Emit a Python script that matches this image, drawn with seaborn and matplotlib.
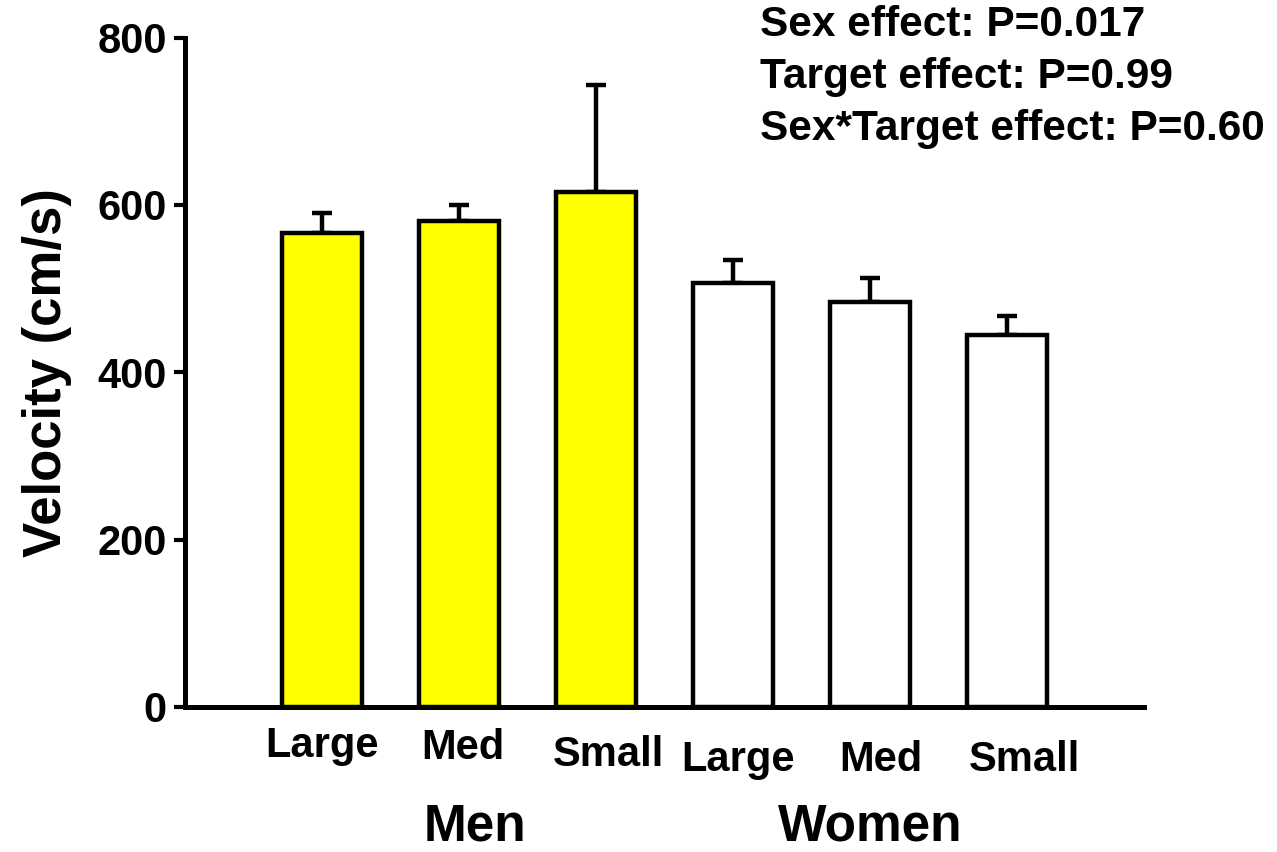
import matplotlib
matplotlib.use("Agg")
import matplotlib.pyplot as plt
import matplotlib.transforms as mtransforms
import seaborn as sns
import numpy as np

# Values
groups = ["Men", "Men", "Men", "Women", "Women", "Women"]
targets = ["Large", "Med", "Small", "Large", "Med", "Small"]
velocity = [567, 581, 616, 507, 484, 445]
sem = [23, 19, 127, 27, 29, 22]
stats_lines = ["Sex effect: P=0.017", "Target effect: P=0.99", "Sex*Target effect: P=0.60"]

sns.set_theme(style="white")
plt.rcParams["font.family"] = ["Liberation Sans", "DejaVu Sans"]
plt.rcParams["font.weight"] = "bold"
plt.rcParams["text.color"] = "black"
plt.rcParams["axes.labelcolor"] = "black"
plt.rcParams["ytick.color"] = "black"

fig = plt.figure(figsize=(12.77, 8.52), dpi=100)
ax = fig.add_axes([0.1449, 0.1702, 0.7509, 0.7856])

bar_ids = [f"{g} {t}" for g, t in zip(groups, targets)]
sns.barplot(x=bar_ids, y=velocity, hue=groups, palette={"Men": "#ffff00", "Women": "white"},
            saturation=1, dodge=False, width=0.58, edgecolor="black", linewidth=3.2,
            legend=False, errorbar=None, ax=ax, zorder=3)

xpos = np.arange(len(velocity))
ax.errorbar(xpos, velocity, yerr=[np.zeros(len(sem)), sem], fmt="none", ecolor="black",
            elinewidth=3.2, capsize=7, capthick=3.2, zorder=2)

ax.set_xlim(-1, 6)
ax.set_ylim(0, 800)
ax.set_yticks([0, 200, 400, 600, 800])
ax.set_yticklabels(["0", "200", "400", "600", "800"], fontsize=30, fontweight="bold", color="black")
ax.tick_params(axis="y", direction="out", length=8, width=3, pad=5, left=True, colors="black")
ax.tick_params(axis="x", length=0)
ax.set_xticks([])
ax.set_xlabel("")
ax.set_ylabel("Velocity (cm/s)", fontsize=38, fontweight="bold", labelpad=18, color="black")

sns.despine(ax=ax)
for side in ["left", "bottom"]:
    ax.spines[side].set_linewidth(3.6)
    ax.spines[side].set_color("black")

# staggered category labels under the bars
trans = mtransforms.blended_transform_factory(ax.transData, ax.transAxes)
label_dx = [0, 0.03, 0.09, 0.04, 0.08, 0.13]
label_dy = [-0.058, -0.061, -0.071, -0.079, -0.079, -0.079]
for i, t in enumerate(targets):
    ax.text(xpos[i] + label_dx[i], label_dy[i], t, transform=trans, ha="center", va="center",
            fontsize=30, fontweight="bold", color="black")

ax.text(1.12, -0.18, "Men", transform=trans, ha="center", va="center", fontsize=37,
        fontweight="bold", color="black")
ax.text(4.0, -0.18, "Women", transform=trans, ha="center", va="center", fontsize=37,
        fontweight="bold", color="black")

for k, line in enumerate(stats_lines):
    fig.text(0.595, 0.971 - k * 0.061, line, ha="left", va="center", fontsize=30.5,
             fontweight="bold", color="black")

fig.savefig("out.png", dpi=100)
